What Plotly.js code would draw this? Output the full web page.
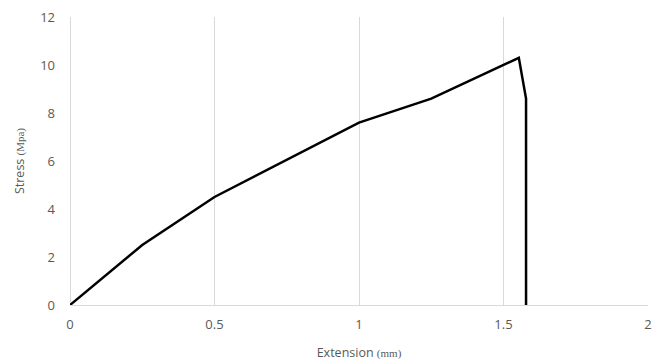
<!DOCTYPE html>
<html><head><meta charset="utf-8">
<script src="https://cdn.plot.ly/plotly-3.0.1.min.js"></script>
<style>html,body{margin:0;padding:0;background:#fff}</style>
</head><body>
<div id="chart" style="width:660px;height:364px"></div>
<script>
const extension = [0, 0.25, 0.5, 1, 1.25, 1.5, 1.553, 1.578, 1.578];
const stress = [0, 2.5, 4.5, 7.6, 8.6, 10.0, 10.3, 8.6, 0];
const xTicks = [0, 0.5, 1, 1.5, 2];
const xTickLabels = ['0', '0.5', '1', '1.5', '2'];
const yTicks = [0, 2, 4, 6, 8, 10, 12];

const trace = {
  x: extension, y: stress, type: 'scatter', mode: 'lines',
  line: {color: '#000000', width: 2.5}, hoverinfo: 'none'
};
const layout = {
  width: 660, height: 364,
  margin: {l: 70, r: 12, t: 17, b: 59},
  paper_bgcolor: '#fff', plot_bgcolor: '#fff',
  font: {family: 'Open Sans, sans-serif', color: '#595959', size: 13},
  showlegend: false,
  xaxis: {
    range: [0, 2], tickvals: xTicks, ticktext: xTickLabels,
    showgrid: true, gridcolor: '#d9d9d9', gridwidth: 1,
    zeroline: true, zerolinecolor: '#d9d9d9', zerolinewidth: 1,
    showline: true, linecolor: '#d9d9d9', linewidth: 1,
    ticks: '', ticklabelstandoff: 7,
    tickfont: {size: 13, color: '#595959'},
    title: {text: "Extension <span style=\"font-family:'Liberation Serif',serif;font-size:11px\">(mm)</span>", font: {size: 12.5, color: '#595959'}, standoff: 16}
  },
  yaxis: {
    range: [0, 12], tickvals: yTicks,
    showgrid: false, zeroline: false,
    showline: false,
    ticks: '', ticklabelstandoff: 14,
    tickfont: {size: 13, color: '#595959'},
    title: {text: "Stress <span style=\"font-family:'Liberation Serif',serif;font-size:11px\">(Mpa)</span>", font: {size: 12.5, color: '#595959'}, standoff: 12}
  }
};
Plotly.newPlot('chart', [trace], layout, {displayModeBar: false, staticPlot: true});
</script>
</body></html>
